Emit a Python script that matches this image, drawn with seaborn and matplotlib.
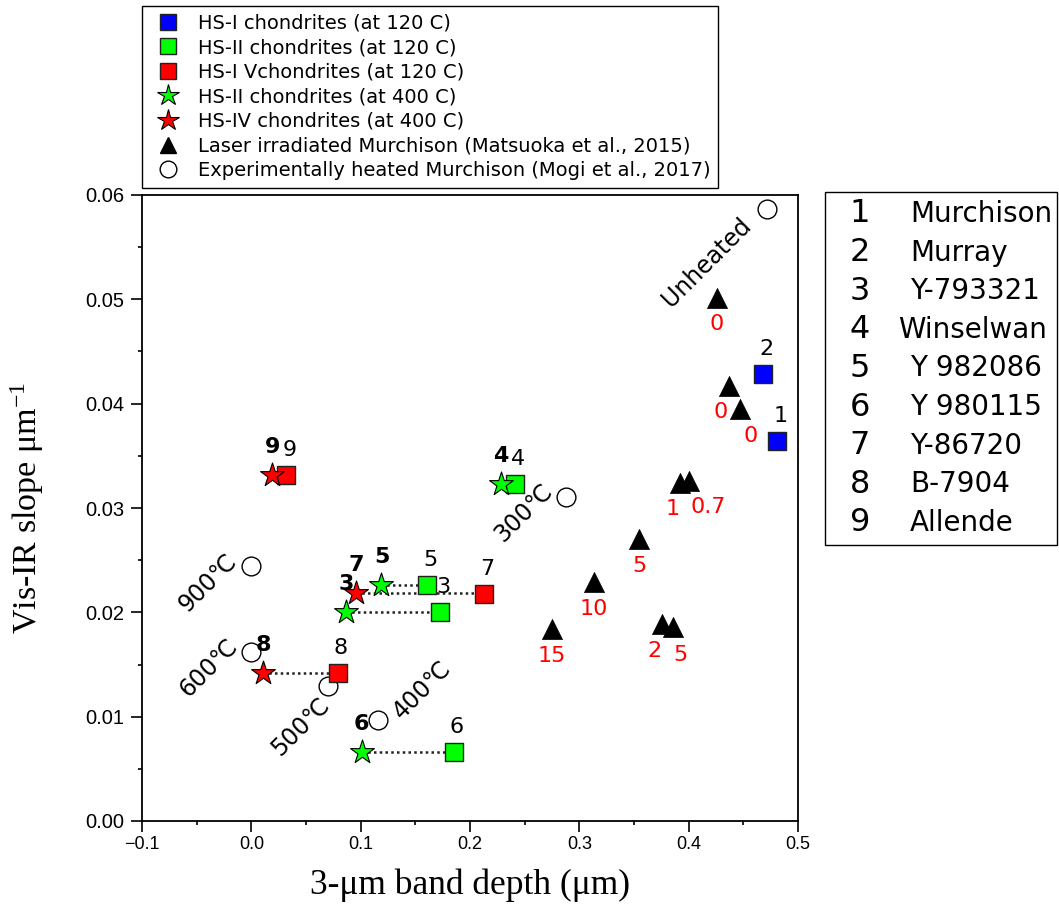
import matplotlib
matplotlib.use("Agg")
import matplotlib.pyplot as plt
from matplotlib.lines import Line2D
from matplotlib.patches import Rectangle
from matplotlib.ticker import MultipleLocator
import seaborn as sns
import pandas as pd

# ---- data -------------------------------------------------------------
# HS-I chondrites heated at 120 C
hs1_120_id = ["1", "2"]
hs1_120_x = [0.481, 0.468]
hs1_120_y = [0.0364, 0.0428]

# HS-II chondrites heated at 120 C
hs2_120_id = ["3", "4", "5", "6"]
hs2_120_x = [0.173, 0.241, 0.161, 0.185]
hs2_120_y = [0.0200, 0.0323, 0.0226, 0.0066]

# HS-IV chondrites heated at 120 C
hs4_120_id = ["7", "8", "9"]
hs4_120_x = [0.213, 0.079, 0.032]
hs4_120_y = [0.0218, 0.0142, 0.0332]

# HS-II chondrites heated at 400 C
hs2_400_id = ["3", "4", "5", "6"]
hs2_400_x = [0.087, 0.228, 0.119, 0.101]
hs2_400_y = [0.0200, 0.0323, 0.0226, 0.0066]

# HS-IV chondrites heated at 400 C
hs4_400_id = ["7", "8", "9"]
hs4_400_x = [0.096, 0.011, 0.019]
hs4_400_y = [0.0219, 0.0142, 0.0332]

# Laser irradiated Murchison (Matsuoka et al., 2015), labelled by pulse energy
laser_x = [0.426, 0.437, 0.447, 0.392, 0.400, 0.355, 0.313, 0.275, 0.376, 0.386]
laser_y = [0.0501, 0.0417, 0.0395, 0.0324, 0.0326, 0.0270, 0.0229, 0.0184, 0.0189, 0.0186]
laser_lab = ["0", "0", "0", "1", "0.7", "5", "10", "15", "2", "5"]

# Experimentally heated Murchison (Mogi et al., 2017)
heat_x = [0.472, 0.288, 0.116, 0.070, 0.000, 0.000]
heat_y = [0.0587, 0.0311, 0.0097, 0.0129, 0.0162, 0.0244]
heat_lab = ["Unheated", "300℃", "400℃", "500℃", "600℃", "900℃"]

# samples whose 120 C and 400 C measurements are joined by a dotted line
pair_ids = ["3", "5", "6", "7", "8"]

sample_num = ["1", "2", "3", "4", "5", "6", "7", "8", "9"]
sample_name = ["Murchison", "Murray", "Y-793321", "Winselwan", "Y 982086",
               "Y 980115", "Y-86720", "B-7904", "Allende"]

legend_labels = [
    "HS-I chondrites (at 120 C)",
    "HS-II chondrites (at 120 C)",
    "HS-I Vchondrites (at 120 C)",
    "HS-II chondrites (at 400 C)",
    "HS-IV chondrites (at 400 C)",
    "Laser irradiated Murchison (Matsuoka et al., 2015)",
    "Experimentally heated Murchison (Mogi et al., 2017)",
]

x_ticks = [-0.1, 0.0, 0.1, 0.2, 0.3, 0.4, 0.5]
x_tick_labels = ["\u22120.1", "0.0", "0.1", "0.2", "0.3", "0.4", "0.5"]
y_ticks = [0.00, 0.01, 0.02, 0.03, 0.04, 0.05, 0.06]
y_tick_labels = ["0.00", "0.01", "0.02", "0.03", "0.04", "0.05", "0.06"]

# ---- label offsets (pixels) --------------------------------------------
laser_dx = [0, -8, 11, -7, 20, 0, 0, 0, -8, 7]
laser_dy = [-26, -26, -27, -26, -26, -27, -27, -27, -27, -28]
heat_dx = [-61, -43, 44, -27, -43, -44]
heat_dy = [-54, -16, 30, -40, -16, -16]

# ---- style ---------------------------------------------------------------
sns.set_style("ticks")
plt.rcParams["font.family"] = ["DejaVu Sans", "Noto Sans CJK JP"]
plt.rcParams["mathtext.fontset"] = "custom"
plt.rcParams["mathtext.rm"] = "Liberation Serif"
for key in ["text.color", "axes.labelcolor", "xtick.color", "ytick.color",
            "xtick.labelcolor", "ytick.labelcolor"]:
    plt.rcParams[key] = "black"

BLUE, GREEN, RED = "#0000ff", "#00ff00", "#ff0000"
W, H = 1059, 911
AX_L, AX_R, AX_T, AX_B = 142, 798, 195, 821

fig = plt.figure(figsize=(W / 100, H / 100), dpi=100)
ax = fig.add_axes([AX_L / W, 1 - AX_B / H, (AX_R - AX_L) / W, (AX_B - AX_T) / H])

# dotted connectors between 400 C stars and 120 C squares
star_x = dict(zip(hs2_400_id + hs4_400_id, hs2_400_x + hs4_400_x))
star_y = dict(zip(hs2_400_id + hs4_400_id, hs2_400_y + hs4_400_y))
sq_x = dict(zip(hs2_120_id + hs4_120_id, hs2_120_x + hs4_120_x))
for sid in pair_ids:
    ax.plot([star_x[sid], sq_x[sid]], [star_y[sid], star_y[sid]],
            ls=(0, (1, 1.3)), lw=1.8, color="#222222", zorder=1)

def scatter(x, y, marker, color, size, edge="black", lw=1.0, z=3):
    df = pd.DataFrame({"x": x, "y": y})
    sns.scatterplot(data=df, x="x", y="y", marker=marker, s=size ** 2,
                    color=color, edgecolor=edge, linewidth=lw, ax=ax,
                    zorder=z, legend=False)

scatter(heat_x, heat_y, "o", "white", 13.5, lw=1.0, z=2)
scatter(laser_x, laser_y, "^", "black", 14.5, edge="black", lw=0.5, z=3)
scatter(hs1_120_x, hs1_120_y, "s", BLUE, 12.5, edge="#222222", lw=1.0, z=3)
scatter(hs2_120_x, hs2_120_y, "s", GREEN, 12.5, edge="#222222", lw=1.0, z=3)
scatter(hs4_120_x, hs4_120_y, "s", RED, 12.5, edge="#222222", lw=1.0, z=3)
scatter(hs2_400_x, hs2_400_y, "*", GREEN, 18, lw=0.8, z=4)
scatter(hs4_400_x, hs4_400_y, "*", RED, 18, lw=0.8, z=4)

# sample numbers
for ids, xs, ys in [(hs1_120_id, hs1_120_x, hs1_120_y),
                    (hs2_120_id, hs2_120_x, hs2_120_y),
                    (hs4_120_id, hs4_120_x, hs4_120_y)]:
    for s, x, y in zip(ids, xs, ys):
        ax.annotate(s, (x, y), xytext=(3, 25), textcoords="offset pixels",
                    ha="center", va="center", fontsize=16, zorder=6)
for ids, xs, ys in [(hs2_400_id, hs2_400_x, hs2_400_y),
                    (hs4_400_id, hs4_400_x, hs4_400_y)]:
    for s, x, y in zip(ids, xs, ys):
        ax.annotate(s, (x, y), xytext=(0, 28), textcoords="offset pixels",
                    ha="center", va="center", fontsize=16,
                    fontweight="bold", zorder=6)

for lab, x, y, dx, dy in zip(laser_lab, laser_x, laser_y, laser_dx, laser_dy):
    ax.annotate(lab, (x, y), xytext=(dx, dy), textcoords="offset pixels",
                ha="center", va="center", fontsize=16, color=RED, zorder=6)

for lab, x, y, dx, dy in zip(heat_lab, heat_x, heat_y, heat_dx, heat_dy):
    ax.annotate(lab, (x, y), xytext=(dx, dy), textcoords="offset pixels",
                ha="center", va="center", fontsize=17, rotation=45,
                rotation_mode="anchor", zorder=6)

# ---- axes ---------------------------------------------------------------
ax.set_xlim(-0.1, 0.5)
ax.set_ylim(0.0, 0.06)
ax.set_xticks(x_ticks)
ax.set_xticklabels(x_tick_labels, fontsize=13, family="Liberation Sans")
ax.set_yticks(y_ticks)
ax.set_yticklabels(y_tick_labels, fontsize=14.5, family="Liberation Sans")
ax.xaxis.set_minor_locator(MultipleLocator(0.05))
ax.yaxis.set_minor_locator(MultipleLocator(0.005))
ax.tick_params(which="major", direction="out", length=8, width=1.2,
               color="black", labelcolor="black")
ax.tick_params(axis="y", which="major", pad=5)
ax.tick_params(axis="x", which="major", pad=3)
ax.tick_params(which="minor", direction="out", length=3.2, width=1.2,
               color="black")
for sp in ax.spines.values():
    sp.set_linewidth(1.3)
    sp.set_color("black")
    sp.set_visible(True)

ax.set_xlabel("3-μm band depth (μm)", fontsize=25.5, family="Liberation Serif")
ax.set_ylabel("Vis-IR slope μm$\\mathregular{^{-1}}$", fontsize=24.5,
              family="Liberation Serif")
ax.xaxis.set_label_coords(0.5, -0.076)
ax.yaxis.set_label_coords(-0.146, 0.5)

# ---- symbol legend -------------------------------------------------------
handles = [
    Line2D([], [], ls="", marker="s", ms=11, mfc=BLUE, mec="#222222", mew=1),
    Line2D([], [], ls="", marker="s", ms=11, mfc=GREEN, mec="#222222", mew=1),
    Line2D([], [], ls="", marker="s", ms=11, mfc=RED, mec="#222222", mew=1),
    Line2D([], [], ls="", marker="*", ms=16, mfc=GREEN, mec="black", mew=0.8),
    Line2D([], [], ls="", marker="*", ms=16, mfc=RED, mec="black", mew=0.8),
    Line2D([], [], ls="", marker="^", ms=12, mfc="black", mec="black"),
    Line2D([], [], ls="", marker="o", ms=12, mfc="white", mec="black", mew=1),
]
leg = fig.legend(handles, legend_labels, loc="upper left",
                 bbox_to_anchor=(142 / W, 1 - 6 / H),
                 bbox_transform=fig.transFigure, borderaxespad=0,
                 fontsize=14, labelspacing=0.29, handlelength=1.9,
                 handletextpad=0.58, borderpad=0.38, frameon=True,
                 fancybox=False, framealpha=1)
leg.get_frame().set_edgecolor("black")
leg.get_frame().set_linewidth(1.0)
for t in leg.get_texts():
    t.set_color("black")

# ---- sample key ----------------------------------------------------------
fig.add_artist(Rectangle((825 / W, 1 - 545 / H), (1057 - 825) / W,
                         (545 - 192) / H, transform=fig.transFigure,
                         fill=False, ec="black", lw=1.0))
for i, (num, name) in enumerate(zip(sample_num, sample_name)):
    yc = 1 - (214 + i * 38.6) / H
    fig.text(860 / W, yc, num, ha="center", va="center", fontsize=23)
    x_name = 898 if name == "Winselwan" else 910
    fig.text(x_name / W, yc, name, ha="left", va="center", fontsize=20)

fig.savefig("out.png", dpi=100)
